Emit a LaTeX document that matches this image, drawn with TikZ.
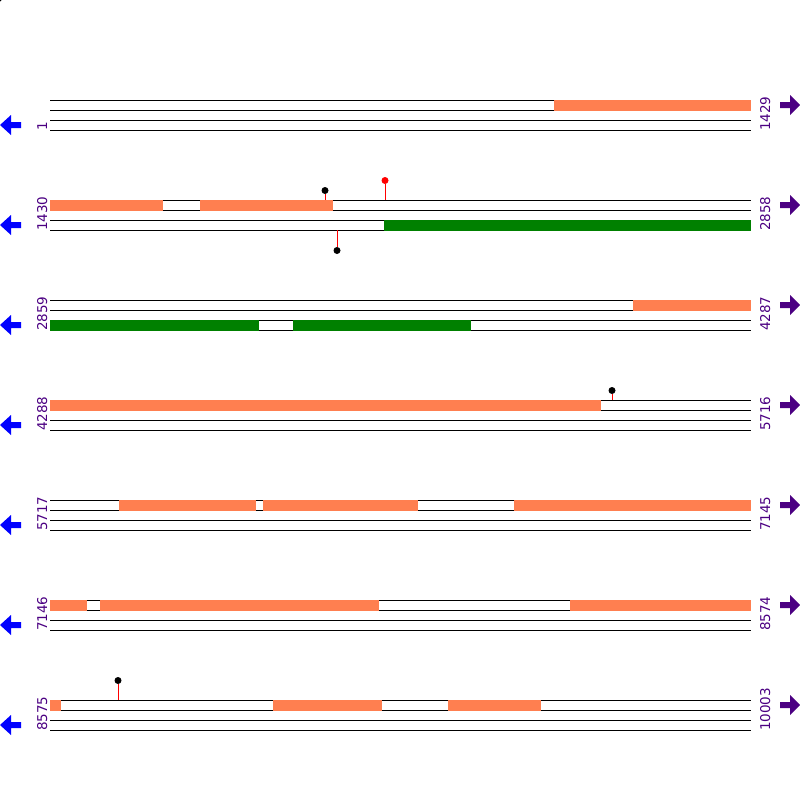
\documentclass[tikz,border=0pt]{standalone}
\usepackage{fontspec}
\newfontfamily\posfont{DejaVu Sans}
\usetikzlibrary{positioning}
\definecolor{cdsorange}{RGB}{255,127,80}
\definecolor{cdsgreen}{RGB}{0,128,0}
\definecolor{posindigo}{RGB}{75,0,130}

\begin{document}
\begin{tikzpicture}[
    x=1pt,y=-1pt,
    strand/.style={line width=1pt,black},
    fwdbox/.style={fill=cdsorange},
    revbox/.style={fill=cdsgreen},
    poslbl/.style={font=\posfont\fontsize{13.5}{14}\selectfont,text=posindigo,
                   rotate=90,anchor=base west,inner sep=0pt},
    stem/.style={red,line width=1pt},
    pinhead/.style={circle,fill=#1,minimum size=7pt,inner sep=0pt},
    leftarr/.style={fill=blue},
    rightarr/.style={fill=posindigo},
]
\useasboundingbox (0,0) rectangle (800,800);

% ---- stray marker in the corner ----
\node[pinhead=black] (corner) at (-1.5,-1.5) {};

% ---- strand lines, position labels and direction arrows per row ----
\foreach \y/\first/\last in {100/1/1429,200/1430/2858,300/2859/4287,400/4288/5716,
                             500/5717/7145,600/7146/8574,700/8575/10003}{
  \foreach \k in {0,10,20,30}
    \draw[strand] (50,\y+\k) -- (751,\y+\k);
  \node[poslbl] (first\y) at (47,\y+31) {\first};
  \node[poslbl] (last\y)  at (770,\y+31) {\last};
  \fill[leftarr]  (0,\y+25) -- ++(11,-10) -- ++(0,7) -- ++(10,0) -- ++(0,6)
                  -- ++(-10,0) -- ++(0,7) -- cycle;
  \fill[rightarr] (800,\y+5) -- ++(-10,-10) -- ++(0,7) -- ++(-10,0) -- ++(0,6)
                  -- ++(10,0) -- ++(0,7) -- cycle;
}

% ---- forward strand features ----
\foreach \y/\xa/\xb in {100/554/751, 200/50/163, 200/200/333, 300/633/751,
                        400/50/601, 500/119/256, 500/263/418, 500/514/751,
                        600/50/87, 600/100/379, 600/570/751,
                        700/50/61, 700/273/382, 700/448/541}
  \fill[fwdbox] (\xa,\y-0.5) rectangle (\xb,\y+10.5);

% ---- reverse strand features ----
\foreach \y/\xa/\xb in {200/384/751, 300/50/259, 300/293/471}
  \fill[revbox] (\xa,\y+19.5) rectangle (\xb,\y+30.5);

% ---- site markers ----
\coordinate (s1) at (325,200);
\coordinate (s2) at (385,200);
\coordinate (s3) at (337,230);
\coordinate (s4) at (612,400);
\coordinate (s5) at (118,700);
\node[pinhead=black] (m1) at (325,190.5) {};
\node[pinhead=red]   (m2) at (385,180.5) {};
\node[pinhead=black] (m3) at (337,250.5) {};
\node[pinhead=black] (m4) at (612,390.5) {};
\node[pinhead=black] (m5) at (118,680.5) {};
\foreach \i in {1,...,5}
  \draw[stem] (s\i) -- (m\i);

\end{tikzpicture}
\end{document}
